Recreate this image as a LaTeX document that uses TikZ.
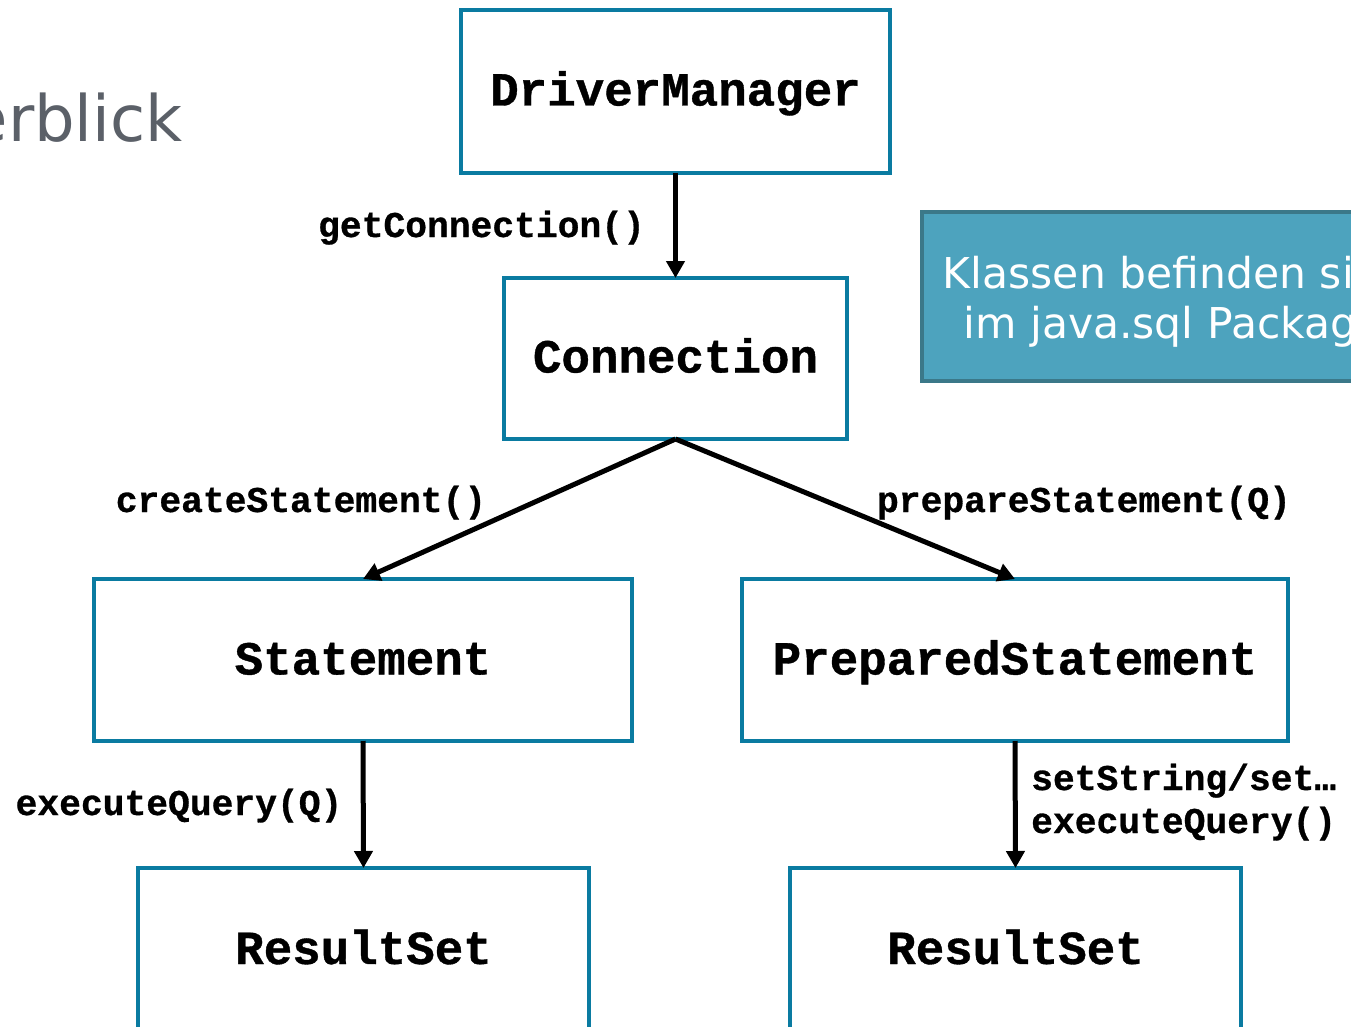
\documentclass[tikz,border=0pt]{standalone}
\usepackage{fontspec}
\setmainfont{DejaVu Sans}
\newfontfamily\codefont[BoldFeatures={FakeBold=0.8}]{Liberation Mono}
\usetikzlibrary{arrows.meta}
\definecolor{boxblue}{HTML}{0A7BA1}
\definecolor{notefill}{HTML}{4DA3BE}
\definecolor{noteedge}{HTML}{3B7889}
\definecolor{titlegray}{HTML}{5B6068}
\begin{document}
\begin{tikzpicture}[x=1pt,y=-1pt,
  classbox/.style={draw=boxblue, line width=4.5pt, outer sep=0pt, inner sep=0pt},
  classname/.style={font=\codefont\bfseries\fontsize{47.5}{50}\selectfont, anchor=base, inner sep=0pt},
  call/.style={font=\codefont\bfseries\fontsize{36.3}{45}\selectfont, inner sep=0pt},
  flow/.style={-{Triangle[width=18pt,length=17pt]}, line width=5pt},
  notebox/.style={draw=noteedge, fill=notefill, line width=4.5pt, outer sep=0pt, inner sep=0pt},
  notetext/.style={font=\fontsize{42.5}{50}\selectfont, text=white, anchor=base, inner sep=0pt}]
\useasboundingbox (0,0) rectangle (1351,1027);
\clip (0,0) rectangle (1351,1027);

% slide title
\node[font=\fontsize{64}{70}\selectfont, text=titlegray, anchor=base east, inner sep=0pt] (title) at (183,142) {Überblick};

% note about the package
\node[notebox, minimum width=578pt, minimum height=169pt] (note) at (1211,296.5) {};
\node[notetext] (note1) at (1173.5,288) {Klassen befinden sich};
\node[notetext] (note2) at (1173.5,338) {im java.sql Package};

% class boxes
\node[classbox, minimum width=429pt, minimum height=163pt] (drv) at (675.5,91.5) {};
\node[classname] (drvname) at (675.5,105.5) {DriverManager};

\node[classbox, minimum width=343pt, minimum height=161pt] (con) at (675.5,358.5) {};
\node[classname] (conname) at (675.5,372.5) {Connection};

\node[classbox, minimum width=538pt, minimum height=162pt] (stm) at (363,660) {};
\node[classname] (stmname) at (363,674.5) {Statement};

\node[classbox, minimum width=546pt, minimum height=162pt] (prep) at (1015,660) {};
\node[classname] (prepname) at (1015,674.5) {PreparedStatement};

\node[classbox, minimum width=451pt, minimum height=192pt] (rs1) at (363.5,964) {};
\node[classname] (rs1name) at (363.5,964) {ResultSet};

\node[classbox, minimum width=451pt, minimum height=192pt] (rs2) at (1015.5,964) {};
\node[classname] (rs2name) at (1015.5,964) {ResultSet};

% calls between the classes
\draw[flow] (drv.south) -- (con.north);
\draw[flow] (con.south) -- (stm.north);
\draw[flow] (con.south) -- (prep.north);
\draw[flow] (stm.south) -- (rs1.north);
\draw[flow] (prep.south) -- (rs2.north);

% method labels
\node[call, anchor=base] (lgc) at (481.5,237) {getConnection()};
\node[call, anchor=base] (lcs) at (301,512) {createStatement()};
\node[call, anchor=base] (lps) at (1084,512) {prepareStatement(Q)};
\node[call, anchor=base] (leq) at (179,815) {executeQuery(Q)};
\node[call, anchor=base west] (lss) at (1031,790) {setString/set…};
\node[call, anchor=base west] (leq2) at (1031,833) {executeQuery()};
\end{tikzpicture}
\end{document}
